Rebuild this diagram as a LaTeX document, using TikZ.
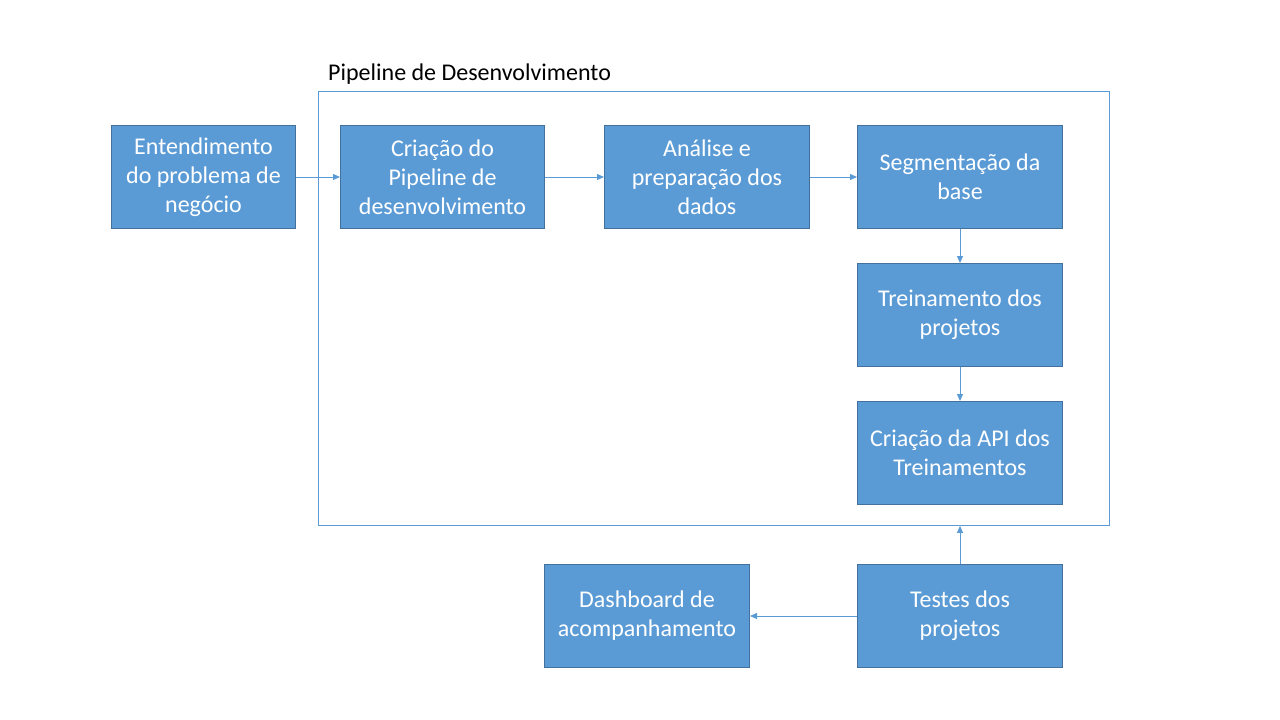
\documentclass[tikz,border=0pt]{standalone}
\usepackage{fontspec}
\setmainfont{Carlito}
\usetikzlibrary{arrows.meta}
\definecolor{boxfill}{HTML}{5B9BD5}
\definecolor{boxline}{HTML}{41719C}
\begin{document}
\begin{tikzpicture}[x=1pt,y=-1pt,
  blk/.style={draw=boxline,line width=1pt,fill=boxfill,text=white,align=center,
    font=\fontsize{24}{29}\selectfont,inner sep=0pt},
  conn/.style={draw=boxfill,line width=1pt,-{Triangle[length=7pt,width=6pt]}}]
\useasboundingbox (0,0) rectangle (1280,720);
\node[draw=boxfill,line width=0.9pt,minimum width=791pt,minimum height=434pt,inner sep=0pt,anchor=north west] (cont) at (318,91) {};
\node[anchor=base west,font=\fontsize{24}{29}\selectfont,inner sep=0pt] (title) at (328,80) {Pipeline de Desenvolvimento};
\node[blk,minimum width=184pt,minimum height=103pt,anchor=north west] (ent) at (111,125) {Entendimento\\do problema de\\negócio};
\node[blk,minimum width=204pt,minimum height=103pt,anchor=north west] (cri) at (340,125) {Criação do\\Pipeline de\\desenvolvimento};
\node[blk,minimum width=205pt,minimum height=103pt,anchor=north west] (ana) at (604,125) {Análise e\\preparação dos\\dados};
\node[blk,minimum width=205pt,minimum height=103pt,anchor=north west] (seg) at (857,125) {Segmentação da\\base};
\node[blk,minimum width=205pt,minimum height=103pt,anchor=north west] (tre) at (857,263) {Treinamento dos\\projetos};
\node[blk,minimum width=205pt,minimum height=103pt,anchor=north west] (api) at (857,401) {Criação da API dos\\Treinamentos};
\node[blk,minimum width=205pt,minimum height=103pt,anchor=north west] (tes) at (857,564) {Testes dos\\projetos};
\node[blk,minimum width=205pt,minimum height=103pt,anchor=north west] (das) at (544,564) {Dashboard de\\acompanhamento};
\draw[conn] (ent) -- (cri);
\draw[conn] (cri) -- (ana);
\draw[conn] (ana) -- (seg);
\draw[conn] (seg) -- (tre);
\draw[conn] (tre) -- (api);
\draw[conn] (tes) -- (tes|-cont.south);
\draw[conn] (tes) -- (das);
\end{tikzpicture}
\end{document}
